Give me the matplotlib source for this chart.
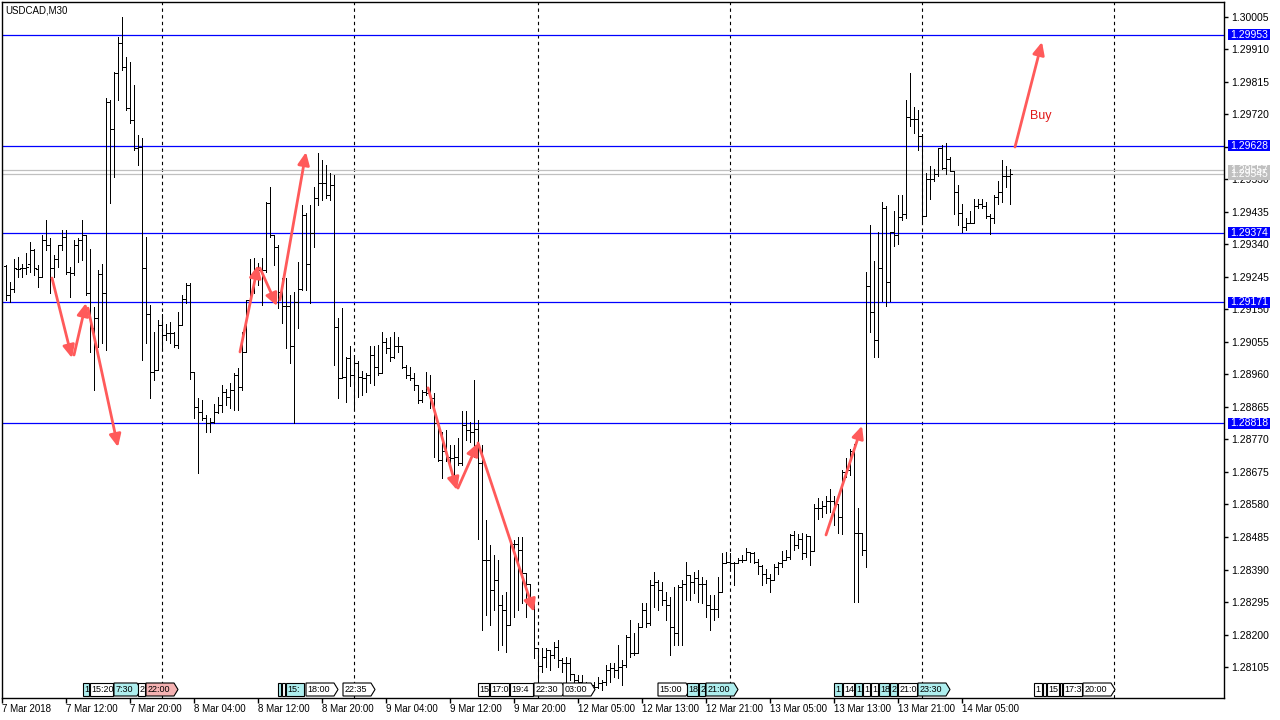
import numpy as np
import matplotlib
matplotlib.use("Agg")
import matplotlib.pyplot as plt
import matplotlib.transforms as mtransforms
from matplotlib.collections import LineCollection
from matplotlib.patches import Polygon, Rectangle

plt.rcParams['font.family'] = ['Liberation Sans', 'DejaVu Sans']

# --- USDCAD M30 bars, prices in points (1e-5) ---
open_pts = [
    129277, 129192, 129209, 129267, 129270, 129272, 129282, 129323, 129267, 129246,
    129353, 129338, 129270, 129299, 129338, 129362, 129260, 129257, 129338, 129353,
    129367, 129197, 129095, 129124, 129255, 129197, 129757, 129679, 129840, 129930,
    129859, 129738, 129703, 129621, 129625, 129270, 129138, 128968, 128973, 129104,
    129075, 129080, 129080, 129046, 129104, 129182, 129221, 128968, 128866, 128851,
    128832, 128817, 128822, 128851, 128871, 128910, 128895, 128914, 128958, 128924,
    129026, 129177, 129255, 129256, 129266, 129266, 129461, 129368, 129334, 129202,
    129159, 129159, 129042, 129173, 129210, 129427, 129282, 129373, 129475, 129519,
    129519, 129485, 129514, 129100, 128949, 128954, 129007, 128959, 128993, 128954,
    128949, 128959, 129017, 128983, 128964, 129056, 129037, 129012, 129042, 129042,
    128983, 128959, 128949, 128930, 128886, 128910, 128905, 128891, 128818, 128710,
    128735, 128720, 128715, 128720, 128701, 128813, 128798, 128793, 128800, 128700,
    128418, 128418, 128330, 128359, 128286, 128272, 128228, 128466, 128466, 128447,
    128379, 128349, 128301, 128160, 128108, 128135, 128155, 128140, 128164, 128125,
    128116, 128116, 128086, 128067, 128062, 128057, 128048, 128052, 128048, 128057,
    128062, 128096, 128101, 128096, 128106, 128111, 128194, 128145, 128145, 128223,
    128272, 128233, 128345, 128354, 128330, 128301, 128286, 128223, 128203, 128340,
    128349, 128374, 128354, 128364, 128349, 128349, 128286, 128276, 128276, 128325,
    128408, 128413, 128408, 128408, 128418, 128418, 128442, 128437, 128413, 128400,
    128377, 128366, 128359, 128397, 128410, 128417, 128427, 128491, 128463, 128478,
    128437, 128488, 128443, 128570, 128570, 128575, 128590, 128590, 128580, 128544,
    128676, 128681, 128737, 128498, 128498, 128448, 129220, 129144, 129062, 129271,
    129448, 129230, 129377, 129367, 129420, 129428, 129713, 129707, 129707, 129657,
    129423, 129530, 129530, 129545, 129621, 129565, 129591, 129555, 129494, 129433,
    129392, 129403, 129403, 129453, 129459, 129453, 129423, 129418, 129479, 129494,
    129540, 129540,
]
high_pts = [
    129280, 129231, 129299, 129304, 129284, 129314, 129348, 129328, 129280, 129367,
    129411, 129358, 129309, 129338, 129382, 129382, 129275, 129353, 129358, 129411,
    129367, 129328, 129158, 129265, 129284, 129767, 129762, 129845, 129947, 130005,
    129889, 129874, 129806, 129660, 129650, 129362, 129163, 129085, 129119, 129138,
    129109, 129114, 129085, 129143, 129192, 129226, 129226, 128968, 128890, 128885,
    128841, 128832, 128875, 128895, 128929, 128919, 128934, 128963, 128978, 129085,
    129177, 129299, 129300, 129285, 129300, 129465, 129509, 129368, 129339, 129241,
    129241, 129193, 129202, 129290, 129456, 129431, 129456, 129509, 129607, 129587,
    129573, 129548, 129543, 129124, 129154, 129012, 129042, 129017, 128998, 128970,
    128964, 129042, 129042, 129046, 129085, 129066, 129071, 129085, 129071, 129042,
    128988, 128983, 128964, 128930, 128915, 128968, 128959, 128905, 128818, 128793,
    128798, 128754, 128754, 128774, 128852, 128852, 128822, 128944, 128827, 128754,
    128535, 128462, 128432, 128418, 128315, 128325, 128471, 128476, 128486, 128486,
    128379, 128349, 128301, 128160, 128160, 128160, 128155, 128179, 128184, 128130,
    128135, 128130, 128086, 128082, 128082, 128062, 128057, 128062, 128077, 128067,
    128111, 128116, 128116, 128169, 128125, 128198, 128242, 128203, 128233, 128291,
    128291, 128359, 128384, 128359, 128354, 128325, 128310, 128340, 128345, 128359,
    128413, 128374, 128384, 128389, 128369, 128359, 128315, 128315, 128369, 128437,
    128442, 128437, 128413, 128423, 128432, 128452, 128442, 128442, 128422, 128402,
    128392, 128377, 128407, 128412, 128443, 128448, 128493, 128504, 128493, 128498,
    128493, 128488, 128580, 128600, 128590, 128605, 128625, 128605, 128580, 128681,
    128717, 128742, 128758, 128570, 128498, 129260, 129398, 129291, 129377, 129464,
    129453, 129377, 129438, 129484, 129484, 129763, 129840, 129743, 129733, 129662,
    129550, 129570, 129560, 129621, 129631, 129636, 129596, 129555, 129514, 129459,
    129418, 129438, 129474, 129474, 129474, 129464, 129428, 129484, 129525, 129586,
    129570, 129560,
]
low_pts = [
    129177, 129172, 129202, 129246, 129246, 129255, 129260, 129250, 129216, 129246,
    129323, 129197, 129246, 129275, 129323, 129255, 129187, 129250, 129289, 129294,
    129192, 129026, 128914, 129041, 129051, 129031, 129460, 129538, 129762, 129850,
    129733, 129694, 129616, 129572, 129002, 129051, 128890, 128943, 128973, 129036,
    129060, 129051, 129041, 129036, 129104, 129168, 128948, 128832, 128671, 128827,
    128793, 128793, 128817, 128846, 128851, 128871, 128861, 128856, 128856, 128914,
    129026, 129177, 129198, 129222, 129163, 129261, 129363, 129280, 129154, 129110,
    129037, 128993, 128818, 129095, 129207, 129207, 129168, 129334, 129456, 129470,
    129475, 129470, 128988, 128891, 128949, 128881, 128925, 128861, 128895, 128900,
    128910, 128934, 128930, 128959, 128964, 129022, 128998, 129007, 129027, 128978,
    128949, 128944, 128915, 128876, 128881, 128900, 128861, 128720, 128706, 128657,
    128706, 128681, 128667, 128696, 128696, 128769, 128764, 128720, 128480, 128213,
    128257, 128228, 128272, 128155, 128169, 128150, 128228, 128252, 128272, 128291,
    128252, 128286, 128130, 128062, 128091, 128106, 128096, 128130, 128106, 128091,
    128062, 128067, 128057, 128057, 128048, 128038, 128038, 128038, 128043, 128038,
    128052, 128062, 128077, 128072, 128052, 128106, 128135, 128140, 128145, 128223,
    128223, 128228, 128281, 128272, 128286, 128242, 128140, 128169, 128169, 128169,
    128301, 128301, 128320, 128296, 128291, 128252, 128213, 128242, 128252, 128325,
    128408, 128393, 128345, 128408, 128413, 128418, 128413, 128408, 128377, 128346,
    128351, 128323, 128359, 128377, 128397, 128417, 128422, 128448, 128453, 128422,
    128427, 128402, 128443, 128539, 128544, 128554, 128559, 128519, 128498, 128493,
    128661, 128666, 128295, 128295, 128432, 128397, 129083, 129012, 129012, 129174,
    129159, 129174, 129337, 129342, 129413, 129418, 129687, 129667, 129616, 129403,
    129423, 129474, 129525, 129540, 129560, 129545, 129555, 129428, 129398, 129377,
    129382, 129403, 129403, 129448, 129448, 129418, 129372, 129403, 129459, 129464,
    129509, 129459,
]
close_pts = [
    129192, 129209, 129270, 129267, 129272, 129275, 129323, 129270, 129246, 129353,
    129338, 129270, 129299, 129338, 129362, 129260, 129257, 129338, 129353, 129367,
    129197, 129095, 129124, 129255, 129197, 129757, 129679, 129840, 129930, 129859,
    129738, 129703, 129621, 129625, 129270, 129138, 128968, 128973, 129104, 129075,
    129080, 129080, 129046, 129104, 129182, 129221, 128968, 128866, 128851, 128832,
    128817, 128822, 128851, 128871, 128910, 128895, 128914, 128958, 128924, 129026,
    129177, 129255, 129256, 129266, 129266, 129461, 129368, 129334, 129202, 129159,
    129159, 129042, 129173, 129210, 129427, 129282, 129373, 129475, 129519, 129519,
    129485, 129514, 129100, 128949, 128954, 129007, 128959, 128993, 128954, 128949,
    128959, 129017, 128983, 128964, 129056, 129037, 129012, 129042, 129042, 128983,
    128959, 128949, 128930, 128886, 128910, 128905, 128891, 128818, 128710, 128735,
    128720, 128715, 128720, 128701, 128813, 128798, 128793, 128800, 128700, 128418,
    128418, 128330, 128359, 128286, 128272, 128228, 128466, 128466, 128447, 128379,
    128349, 128301, 128160, 128108, 128135, 128155, 128140, 128164, 128125, 128116,
    128116, 128086, 128067, 128062, 128057, 128048, 128052, 128048, 128057, 128062,
    128096, 128101, 128096, 128106, 128111, 128194, 128145, 128145, 128223, 128272,
    128233, 128345, 128354, 128330, 128301, 128286, 128223, 128203, 128340, 128349,
    128374, 128354, 128364, 128349, 128349, 128286, 128276, 128276, 128325, 128408,
    128413, 128408, 128408, 128418, 128418, 128442, 128437, 128413, 128400, 128377,
    128366, 128359, 128397, 128410, 128417, 128427, 128491, 128463, 128478, 128437,
    128488, 128443, 128570, 128570, 128575, 128590, 128590, 128580, 128544, 128676,
    128681, 128737, 128498, 128498, 128448, 129220, 129144, 129062, 129271, 129448,
    129230, 129377, 129367, 129420, 129428, 129713, 129707, 129707, 129657, 129423,
    129530, 129530, 129545, 129621, 129565, 129591, 129555, 129494, 129433, 129392,
    129403, 129403, 129453, 129459, 129453, 129423, 129418, 129479, 129494, 129540,
    129540, 129545,
]

# time axis (bar index of each label)
time_ticks = [-1, 15, 31, 47, 63, 79, 95, 111, 127, 143, 159, 175, 191, 207, 223, 239]
time_labels = ["7 Mar 2018", "7 Mar 12:00", "7 Mar 20:00", "8 Mar 04:00", "8 Mar 12:00",
               "8 Mar 20:00", "9 Mar 04:00", "9 Mar 12:00", "9 Mar 20:00", "12 Mar 05:00",
               "12 Mar 13:00", "12 Mar 21:00", "13 Mar 05:00", "13 Mar 13:00",
               "13 Mar 21:00", "14 Mar 05:00"]
day_separators = [39, 87, 133, 181, 229, 277]

price_ticks = [1.28105, 1.28200, 1.28295, 1.28390, 1.28485, 1.28580, 1.28675, 1.28770,
               1.28865, 1.28960, 1.29055, 1.29150, 1.29245, 1.29340, 1.29435, 1.29530,
               1.29625, 1.29720, 1.29815, 1.29910, 1.30005]

levels = [1.29953, 1.29628, 1.29374, 1.29171, 1.28818]
ask_bid = [1.29557, 1.29545]

# red hand-drawn arrows: (start bar, start price, end bar, end price)
arrows = [
    (11.5, 1.29242, 16.5, 1.29008),
    (17.0, 1.29017, 20.0, 1.29169),
    (20.5, 1.29154, 28.0, 1.28748),
    (58.5, 1.29026, 63.0, 1.29280),
    (63.5, 1.29271, 67.75, 1.29160),
    (68.5, 1.29178, 75.0, 1.29610),
    (105.5, 1.28921, 112.75, 1.28622),
    (113.0, 1.28628, 118.0, 1.28760),
    (118.0, 1.28760, 132.0, 1.28266),
    (205.0, 1.28491, 214.0, 1.28810),
    (252.25, 1.29625, 259.0, 1.29932),
]
buy_pos = (256.0, 1.29716)

# calendar event markers along the bottom
ev_start = [19.25, 21, 27, 33, 35,
            68, 69, 70, 75, 84.25,
            118, 121, 126, 132, 139.25,
            163, 170.25, 173.25, 175,
            207, 209.25, 212.25, 214.25, 216.25, 218.25, 221, 223, 228,
            257, 259.25, 260.25, 263.5, 264.25, 269.25]
ev_text = ["1", "15:20", "7:30", "2", "22:00",
           "", "", "15:", "18:00", "22:35",
           "15", "17:0", "19:4", "22:30", "03:00",
           "15:00", "18", "2", "21:00",
           "1", "14", "1", "1", "1", "18", "2", "21:0", "23:30",
           "1", "", "15", "", "17:3", "20:00"]
ev_kind = ["c", "w", "c>", "w", "p>",
           "c", "w", "c", "w>", "w>",
           "w", "w", "w", "w>", "w>",
           "w>", "c", "c", "c>",
           "c", "w", "c", "w", "w", "c", "c", "w", "c>",
           "w", "w", "w", "w", "w", "w>"]

opens = np.array(open_pts) / 1e5
highs = np.array(high_pts) / 1e5
lows = np.array(low_pts) / 1e5
closes = np.array(close_pts) / 1e5
idx = np.arange(len(opens))

W, H = 1280, 720
fig = plt.figure(figsize=(W / 100, H / 100), dpi=100)
ax = fig.add_axes([2 / W, 22 / H, 1222 / W, 696 / H])
px_x = 0.25            # bar units per pixel
px_y = 0.00002923      # price per pixel
ax.set_xlim(-1, 304.5)
ax.set_ylim(1.280144, 1.300488)

# separators and levels
for x in day_separators:
    ax.axvline(x, color='black', lw=0.8, ls=(0, (3, 3)), zorder=1)
for lv in levels:
    ax.axhline(lv, color='#0000ff', lw=0.9, zorder=1)
for lv in ask_bid:
    ax.axhline(lv, color='#c0c0c0', lw=0.9, zorder=1)

# OHLC bars
segs = []
for i in idx:
    segs.append([(i, lows[i]), (i, highs[i])])
    segs.append([(i - 0.45, opens[i]), (i, opens[i])])
    segs.append([(i, closes[i]), (i + 0.45, closes[i])])
ax.add_collection(LineCollection(segs, colors='black', linewidths=0.72,
                                 antialiaseds=False, zorder=2))

# arrows
for x0, y0, x1, y1 in arrows:
    ax.annotate('', xy=(x1, y1), xytext=(x0, y0),
                arrowprops=dict(arrowstyle='-|>,head_length=0.75,head_width=0.35',
                                color='#ff5a5a', lw=2, shrinkA=0, shrinkB=0,
                                mutation_scale=10), zorder=4)
ax.text(buy_pos[0], buy_pos[1], "Buy", color='#e01818', fontsize=9,
        ha='left', va='center', zorder=4)

ax.text(3 * px_x - 1, 1.300488 - 8 * px_y, "USDCAD,M30", fontsize=7,
        ha='left', va='center')

# axes styling
for s in ax.spines.values():
    s.set_color('black')
    s.set_linewidth(1)
ax.yaxis.tick_right()
ax.set_yticks(price_ticks)
ax.set_yticklabels([f"{v:.5f}" for v in price_ticks])
ax.tick_params(axis='y', direction='out', length=3, width=1, pad=2, labelsize=7.5)
ax.set_xticks(time_ticks)
ax.set_xticklabels(time_labels)
ax.tick_params(axis='x', direction='out', length=3.6, width=1, pad=1, labelsize=7)
for lbl in ax.get_xticklabels():
    lbl.set_ha('left')

# right-side price boxes
tr_r = mtransforms.blended_transform_factory(ax.transAxes, ax.transData)
bw = 42 / 1222
bh = 11 * px_y
def price_box(v, fc):
    ax.add_patch(Rectangle((1 + 4 / 1222, v - bh / 2), bw, bh, transform=tr_r,
                           fc=fc, ec='none', clip_on=False, zorder=5))
    ax.text(1 + 6 / 1222, v, f"{v:.5f}", transform=tr_r, color='white', fontsize=7.5,
            ha='left', va='center', clip_on=False, zorder=6)
for lv in levels:
    price_box(lv, '#0000ff')
for lv in ask_bid:
    price_box(lv, '#c0c0c0')

# event markers
tr_b = mtransforms.blended_transform_factory(ax.transData, ax.transAxes)
yb, yt = 2 / 696, 15 / 696
ym = (yb + yt) / 2
colors = {"c": '#aeeeee', "w": 'white', "p": '#f5b2b2'}
for k, (x0, txt, kind) in enumerate(zip(ev_start, ev_text, ev_kind)):
    pointed = kind.endswith('>')
    nat = (4.8 * len(txt) + 4) * px_x if txt else 3 * px_x
    x1 = x0 + nat
    if k + 1 < len(ev_start) and ev_start[k + 1] - x0 < nat + 2:
        x1 = min(x1, ev_start[k + 1] - px_x)
    tip = 1.0 if pointed else 0.0
    pts = [(x0, yb), (x1, yb), (x1 + tip, ym), (x1, yt), (x0, yt)]
    ax.add_patch(Polygon(pts, closed=True, transform=tr_b, fc=colors[kind[0]],
                         ec='black', lw=0.8, clip_on=False, zorder=5))
    if txt:
        ax.text(x0 + 1.2 * px_x, ym, txt, transform=tr_b, fontsize=6.5,
                ha='left', va='center', zorder=6, clip_on=False)

fig.savefig("out.png", dpi=100)
